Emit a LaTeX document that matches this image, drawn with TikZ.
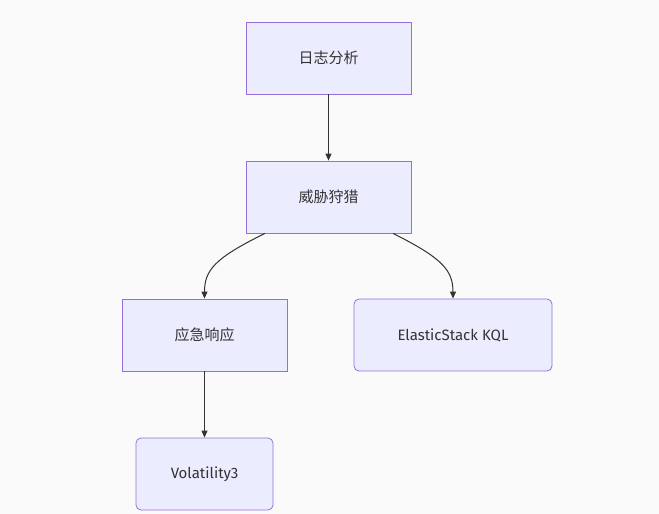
\documentclass[tikz,border=0pt]{standalone}
\usepackage{fontspec}
\setmainfont{Fira Sans}
\newfontfamily\cjk{Noto Sans CJK SC}
\usetikzlibrary{arrows.meta}
\definecolor{bg}{HTML}{FAFAFA}
\definecolor{nf}{HTML}{ECECFF}
\definecolor{ns}{HTML}{9370DB}
\definecolor{tx}{HTML}{333333}
\begin{document}
\begin{tikzpicture}[x=1pt,y=-1pt,
  box/.style={draw=ns,fill=nf,line width=0.8pt,minimum height=72pt,text=tx,font=\fontsize{15}{18}\selectfont,inner sep=0pt},
  rbox/.style={box,rounded corners=5pt},
  arr/.style={draw=tx,line width=1pt,-{Triangle[length=7pt,width=6pt]}}]
\fill[bg] (0,0) rectangle (659,514);
\useasboundingbox (0,0) rectangle (659,514);
\node[box,minimum width=165pt] (a) at (328.5,58) {\cjk 日志分析};
\node[box,minimum width=165pt] (b) at (328.5,197) {\cjk 威胁狩猎};
\node[box,minimum width=165pt] (c) at (204.5,335) {\cjk 应急响应};
\node[rbox,minimum width=198pt] (d) at (453,335) {ElasticStack KQL};
\node[rbox,minimum width=137pt] (e) at (204.5,474) {Volatility3};
\draw[arr] (a) -- (b);
\draw[arr] (b.south -| 265,0) .. controls (215,258) and (204.5,270) .. (c.north);
\draw[arr] (b.south -| 393,0) .. controls (442,258) and (453,270) .. (d.north);
\draw[arr] (c) -- (e);
\end{tikzpicture}
\end{document}
